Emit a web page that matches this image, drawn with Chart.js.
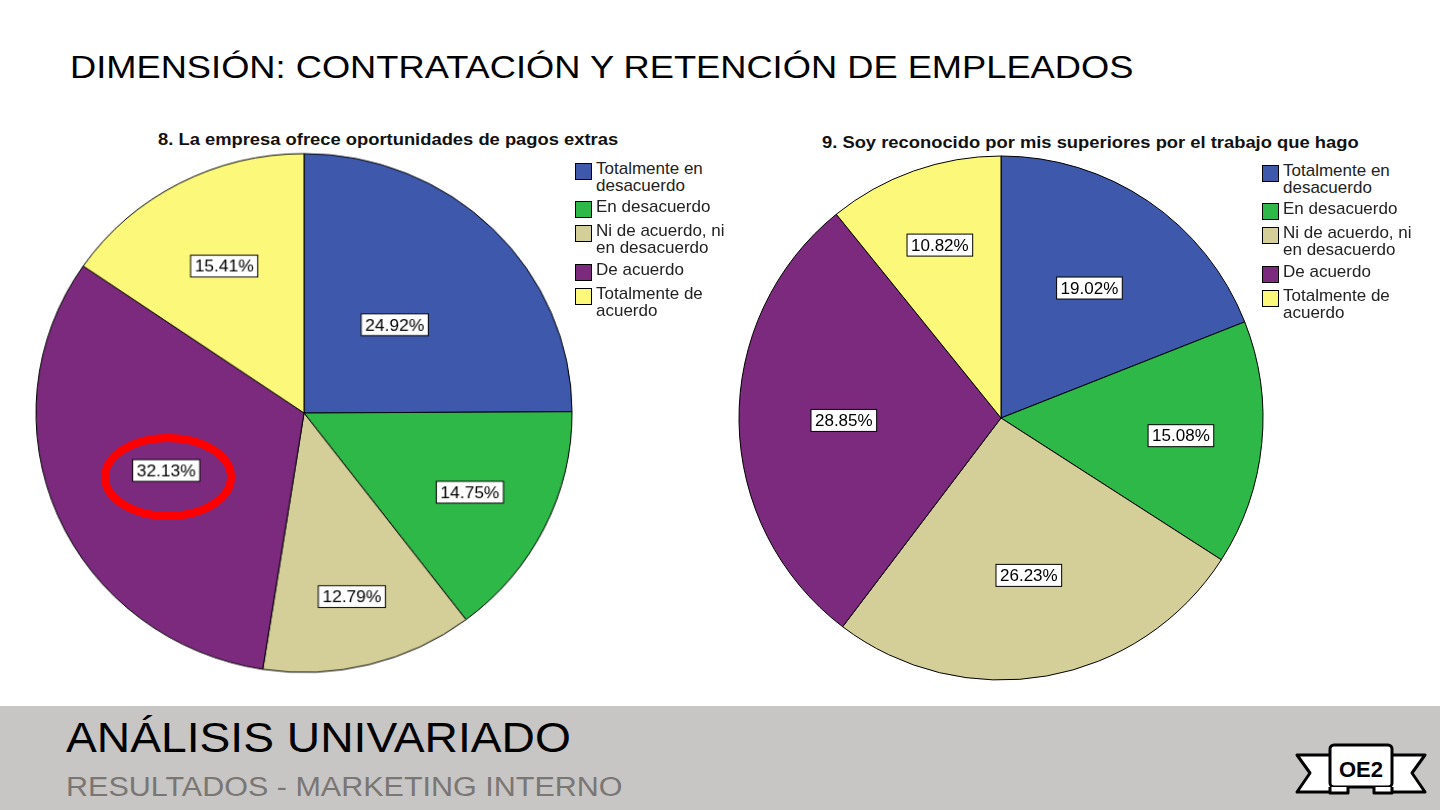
<!DOCTYPE html><html><head><meta charset="utf-8">
<script src="https://cdn.jsdelivr.net/npm/chart.js@4"></script>
<style>
body{margin:0;width:1440px;height:810px;background:#fff;position:relative;overflow:hidden;font-family:"Liberation Sans",Arial,sans-serif}
.abs{position:absolute;white-space:nowrap}
.leg{position:absolute;font-size:17px;line-height:17px;color:#222;white-space:nowrap}
.leg span.sq{position:absolute;left:-21px;top:3px;width:15px;height:15px;border:1px solid #000}
</style></head><body>
<div class="abs" style="left:70px;top:50px;font-size:31px;color:#000;transform:scaleX(1.17);transform-origin:0 0">DIMENSIÓN: CONTRATACIÓN Y RETENCIÓN DE EMPLEADOS</div>
<div class="abs" style="left:158px;top:130px;font-size:17px;font-weight:bold;color:#111;transform:scaleX(1.08);transform-origin:0 0">8. La empresa ofrece oportunidades de pagos extras</div>
<div class="abs" style="left:822px;top:133px;font-size:17px;font-weight:bold;color:#111;transform:scaleX(1.08);transform-origin:0 0">9. Soy reconocido por mis superiores por el trabajo que hago</div>
<canvas id="c1" width="540" height="540" class="abs" style="left:34px;top:143px;transform:scale(1.023,0.99)"></canvas>
<canvas id="c2" width="540" height="540" class="abs" style="left:731px;top:148px"></canvas>
<div id="legs"></div>
<svg class="abs" style="left:0;top:0" width="1440" height="810">
<ellipse cx="168" cy="477" rx="63" ry="39" fill="none" stroke="#f00" stroke-width="8"/>
<rect x="0" y="706" width="1440" height="104" fill="#c8c6c4"/>
<g stroke="#000" stroke-width="3" fill="#fff" stroke-linejoin="round">
<polygon points="1297,755 1335,755 1335,792 1297,792 1310,773"/>
<polygon points="1425,755 1387,755 1387,792 1425,792 1412,773"/>
<rect x="1330" y="745" width="62" height="42" rx="4"/>
<path d="M1330,787 v6 h18 v-6 M1392,787 v6 h-18 v-6"/>
</g>
<text x="1361" y="777" font-size="22" font-family="Liberation Sans" text-anchor="middle" font-weight="bold">OE2</text>
</svg>
<div class="abs" style="left:66px;top:714px;font-size:42px;color:#000;transform:scaleX(1.1);transform-origin:0 0">ANÁLISIS UNIVARIADO</div>
<div class="abs" style="left:66px;top:772px;font-size:27px;color:#7a7674;transform:scaleX(1.13);transform-origin:0 0">RESULTADOS - MARKETING INTERNO</div>
<script>
const categories=["Totalmente en desacuerdo","En desacuerdo","Ni de acuerdo, ni en desacuerdo","De acuerdo","Totalmente de acuerdo"];
const legendLines=[["Totalmente en","desacuerdo"],["En desacuerdo"],["Ni de acuerdo, ni","en desacuerdo"],["De acuerdo"],["Totalmente de","acuerdo"]];
const values1=[24.92,14.75,12.79,32.13,15.41];
const values2=[19.02,15.08,26.23,28.85,10.82];
const colors=["#3e58ac","#2eb848","#d4cf98","#7b2a7e","#fbf87a"];
const labelR1=[0.48,0.69,0.73,0.56,0.64];
const labelR2=[0.6,0.69,0.61,0.6,0.7];
function labelPlugin(fr){return {id:'lbl',afterDatasetsDraw(ch){const c=ch.ctx;const m=ch.getDatasetMeta(0);
c.save();c.font='17px "Liberation Sans"';c.textAlign='center';c.textBaseline='middle';
m.data.forEach((a,i)=>{const ang=(a.startAngle+a.endAngle)/2;const r=a.outerRadius*fr[i];
const x=a.x+Math.cos(ang)*r,y=a.y+Math.sin(ang)*r;const t=ch.data.datasets[0].data[i].toFixed(2)+'%';
const w=c.measureText(t).width+8;c.fillStyle='#fff';c.fillRect(x-w/2,y-11,w,22);c.strokeStyle='#000';c.lineWidth=1;c.strokeRect(x-w/2,y-11,w,22);
c.fillStyle='#000';c.fillText(t,x,y+1);});c.restore();}};}
function mk(id,vals,fr){new Chart(document.getElementById(id),{type:'pie',plugins:[labelPlugin(fr)],
data:{labels:categories,datasets:[{data:vals,backgroundColor:colors,borderColor:'#000',borderWidth:1}]},
options:{responsive:false,animation:false,radius:262,layout:{padding:0},plugins:{legend:{display:false},tooltip:{enabled:false}}}});}
mk('c1',values1,labelR1);mk('c2',values2,labelR2);
const legPos=[[596,160],[1283,162]];const tops=[0,38,62,101,125];
let h='';legPos.forEach(([x,y])=>{legendLines.forEach((l,i)=>{h+=`<div class="leg" style="left:${x}px;top:${y+tops[i]}px"><span class="sq" style="background:${colors[i]}"></span>${l.join('<br>')}</div>`;});});
document.getElementById('legs').innerHTML=h;
</script></body></html>
